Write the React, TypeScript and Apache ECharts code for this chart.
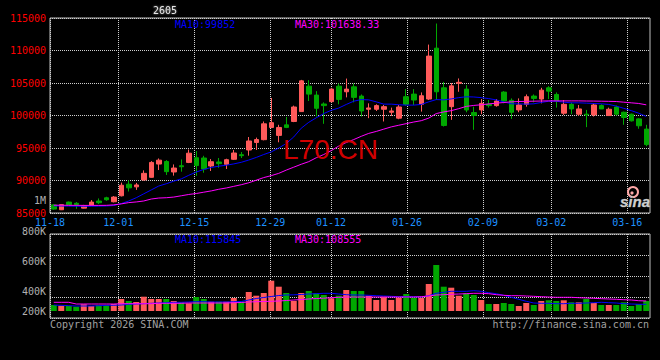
import React, { useEffect, useRef } from "react";
import * as echarts from "echarts";

const MONO = '"DejaVu Sans Mono", "Liberation Mono", monospace';

const dates: string[] = [
  "2025-11-18", "2025-11-19", "2025-11-20", "2025-11-21", "2025-11-24", "2025-11-25", "2025-11-26", "2025-11-27", "2025-11-28",
  "2025-12-01", "2025-12-02", "2025-12-03", "2025-12-04", "2025-12-05",
  "2025-12-08", "2025-12-09", "2025-12-10", "2025-12-11", "2025-12-12",
  "2025-12-15", "2025-12-16", "2025-12-17", "2025-12-18", "2025-12-19",
  "2025-12-22", "2025-12-23", "2025-12-24", "2025-12-25", "2025-12-26",
  "2025-12-29", "2025-12-30", "2025-12-31",
  "2026-01-05", "2026-01-06", "2026-01-07", "2026-01-08", "2026-01-09",
  "2026-01-12", "2026-01-13", "2026-01-14", "2026-01-15", "2026-01-16",
  "2026-01-19", "2026-01-20", "2026-01-21", "2026-01-22", "2026-01-23",
  "2026-01-26", "2026-01-27", "2026-01-28", "2026-01-29", "2026-01-30",
  "2026-02-02", "2026-02-03", "2026-02-04", "2026-02-05", "2026-02-06",
  "2026-02-09", "2026-02-10", "2026-02-11", "2026-02-12", "2026-02-13",
  "2026-02-24", "2026-02-25", "2026-02-26", "2026-02-27",
  "2026-03-02", "2026-03-03", "2026-03-04", "2026-03-05", "2026-03-06",
  "2026-03-09", "2026-03-10", "2026-03-11", "2026-03-12", "2026-03-13",
  "2026-03-16", "2026-03-17", "2026-03-18", "2026-03-19",
];

const xTickLabels = ["11-18", "12-01", "12-15", "12-29", "01-12", "01-26", "02-09", "03-02", "03-16"];
const volTickLabels = ["800K", "600K", "400K", "200K"];

const opens = [
  86250, 85500, 86680, 86500, 85750, 86230, 86840, 87340, 86730, 87650,
  89430, 89020, 90090, 90490, 92530, 92930, 91310, 92270, 92780, 93500,
  93460, 92230, 92850, 92490, 93260, 93970, 94690, 95850, 96280, 98160,
  96940, 98560, 99080, 100600, 104510, 103140, 101770, 102130, 104510, 103650,
  104410, 102990, 100960, 100960, 100960, 100500, 99590, 102890, 103290, 101720,
  102530, 110360, 104260, 101360, 104950, 104060, 100450, 100860, 101720, 101520,
  103600, 102330, 100860, 101720, 102990, 102530, 104260, 103240, 100350, 101720,
  100200, 100200, 100090, 101520, 99990, 101310, 100500, 100200, 99480, 97910,
];
const closes = [
  85600, 86280, 86280, 86300, 86100, 86680, 86580, 87040, 87450, 89270,
  88870, 89320, 91100, 92780, 93130, 91360, 91920, 92120, 94200, 92300,
  91770, 92890, 92590, 93200, 94230, 93820, 96080, 96300, 98720, 98900,
  98160, 98170, 101310, 105330, 103290, 101110, 101520, 104060, 102480, 104060,
  102790, 100700, 101160, 101520, 101360, 100700, 101310, 101720, 102380, 103040,
  109140, 103650, 98470, 104560, 105100, 100850, 100000, 101870, 101520, 102230,
  102230, 100500, 101620, 102890, 102630, 103900, 103750, 102230, 101720, 101010,
  101010, 100090, 101620, 101010, 100960, 100200, 99690, 99180, 98420, 95520,
];
const lows = [
  85500, 85450, 86250, 85650, 85700, 86120, 86380, 86890, 86630, 87550,
  88310, 88560, 89990, 90440, 91610, 90850, 90750, 91360, 92680, 90700,
  91200, 91460, 91950, 91770, 93150, 93460, 93820, 94700, 96180, 98060,
  95880, 98060, 98980, 100550, 102230, 99840, 98720, 102020, 101720, 102790,
  102020, 99840, 99590, 100700, 99080, 99940, 99430, 101520, 101620, 100600,
  102380, 102380, 98300, 99330, 103650, 100500, 97800, 100200, 101210, 101360,
  101870, 99480, 100500, 101360, 102020, 101870, 102530, 101210, 100090, 100200,
  99940, 98210, 99840, 101010, 99940, 99990, 98570, 99080, 97960, 95270,
];
const highs = [
  86350, 86300, 86750, 86680, 86250, 86990, 87240, 87500, 87600, 89680,
  90040, 89630, 91560, 92980, 93390, 93130, 92470, 93240, 94760, 94530,
  93800, 93300, 93460, 93350, 94700, 94380, 96690, 96600, 99080, 102700,
  98570, 99780, 101520, 105480, 105430, 103750, 102020, 104260, 104920, 105680,
  104920, 103240, 101870, 101720, 101620, 101210, 101620, 104060, 104060, 103550,
  110910, 114150, 105170, 105000, 105700, 104670, 101360, 102530, 102380, 102530,
  103750, 102630, 102630, 103240, 103240, 104260, 104510, 103550, 102380, 102020,
  101620, 100860, 101870, 101720, 101210, 101520, 100600, 100300, 99590, 98570,
];
const ma10 = [
  86100, 86080, 86060, 86040, 86040, 86040, 86060, 86080, 86150, 86450,
  86850, 87350, 87950, 88550, 89150, 89500, 89900, 90250, 90800, 91300,
  91700, 92000, 92200, 92350, 92550, 92800, 93150, 93550, 94000, 94400,
  95000, 95700, 96700, 98050, 98950, 99650, 100300, 100800, 101150, 101700,
  102200, 102450, 102400, 102100, 101750, 101750, 101650, 101600, 101600, 101700,
  102100, 102450, 102400, 102550, 102750, 102880, 102850, 102750, 102600, 102400,
  102100, 101800, 101800, 101750, 101800, 102000, 102200, 102200, 102050, 101950,
  101950, 101900, 101850, 101800, 101700, 101450, 101100, 100750, 100350, 99852,
];
const ma30 = [
  86200, 86200, 86180, 86180, 86170, 86170, 86170, 86180, 86250, 86400,
  86600, 86700, 86850, 87150, 87300, 87350, 87450, 87650, 87850, 88000,
  88200, 88400, 88650, 88850, 89100, 89350, 89650, 90050, 90450, 90750,
  91100, 91600, 92050, 92500, 92900, 93500, 94000, 94600, 95300, 95850,
  96300, 96800, 97250, 97550, 97900, 98250, 98500, 98750, 99000, 99200,
  99600, 100300, 100550, 100750, 101050, 101400, 101550, 101650, 101780, 101900,
  102000, 102100, 102150, 102180, 102200, 102230, 102250, 102250, 102250, 102250,
  102250, 102230, 102220, 102200, 102180, 102150, 102050, 101950, 101850, 101638,
];
const volumes = [
  60000, 53000, 50000, 43000, 67000, 50000, 60000, 60000, 70000, 120000,
  100000, 90000, 143000, 120000, 120000, 120000, 100000, 87000, 77000, 140000,
  120000, 93000, 93000, 93000, 130000, 93000, 190000, 153000, 180000, 303000,
  243000, 180000, 100000, 180000, 200000, 177000, 160000, 127000, 153000, 210000,
  200000, 200000, 153000, 110000, 143000, 110000, 133000, 170000, 133000, 133000,
  270000, 460000, 243000, 233000, 153000, 177000, 160000, 110000, 70000, 70000,
  80000, 70000, 50000, 80000, 60000, 100000, 107000, 100000, 107000, 87000,
  87000, 120000, 80000, 60000, 60000, 60000, 87000, 50000, 70000, 100000,
];
const volMa10 = [
  60000, 57000, 53000, 50000, 50000, 50000, 53000, 57000, 57000, 60000,
  67000, 70000, 73000, 77000, 80000, 83000, 87000, 87000, 90000, 93000,
  93000, 90000, 90000, 90000, 93000, 95000, 110000, 125000, 135000, 145000,
  155000, 160000, 162000, 165000, 170000, 173000, 177000, 177000, 170000, 163000,
  160000, 160000, 157000, 153000, 150000, 147000, 143000, 143000, 143000, 140000,
  153000, 177000, 187000, 197000, 197000, 197000, 203000, 197000, 183000, 173000,
  157000, 137000, 117000, 97000, 80000, 77000, 77000, 73000, 73000, 77000,
  77000, 80000, 83000, 87000, 83000, 80000, 73000, 70000, 67000, 67000,
];
const volMa30 = [
  87000, 87000, 87000, 70000, 70000, 70000, 70000, 70000, 70000, 73000,
  73000, 73000, 73000, 73000, 77000, 77000, 77000, 77000, 80000, 80000,
  80000, 80000, 80000, 80000, 83000, 85000, 90000, 93000, 95000, 97000,
  100000, 105000, 110000, 115000, 120000, 125000, 128000, 133000, 137000, 140000,
  140000, 140000, 140000, 140000, 140000, 140000, 140000, 140000, 140000, 143000,
  150000, 160000, 163000, 167000, 170000, 173000, 177000, 177000, 173000, 163000,
  157000, 153000, 153000, 150000, 147000, 143000, 140000, 137000, 137000, 137000,
  133000, 130000, 127000, 123000, 120000, 117000, 113000, 110000, 103000, 100000,
];

const legendPrice = ["MA10:99852", "MA30:101638.33"];
const legendVolume = ["MA10:115845", "MA30:108555"];

const UP = "#ff5a5a";
const DOWN = "#00a800";
const GRID_LINE = { color: "#cfcfcf", type: [1, 1] as number[], width: 1 };

const isTick = (_i: number, v: string) => xTickLabels.includes(String(v).slice(5));

function txt(text: string, x: number, y: number, fill: string, align = "left", extra: any = {}) {
  return {
    type: "text",
    x,
    y,
    z: 100,
    silent: true,
    style: {
      text,
      fill,
      font: `10px ${MONO}`,
      align,
      textAlign: align,
      verticalAlign: "middle",
      textVerticalAlign: "middle",
      ...extra,
    },
  };
}

function buildOption() {
  const candle = dates.map((_, i) => [opens[i], closes[i], lows[i], highs[i]]);
  const vol = volumes.map((v, i) => ({
    value: v,
    itemStyle: { color: closes[i] >= opens[i] ? UP : DOWN },
  }));
  const graphics: any[] = [
    txt("2605", 165, 10, "#e6e6e6", "center", { textShadowColor: "#888", textShadowBlur: 2 }),
    txt(legendPrice[0], 175, 24, "#0000ff"),
    txt(legendPrice[1], 295, 24, "#ff00ff"),
    txt(legendVolume[0], 175, 239, "#0000ff"),
    txt(legendVolume[1], 295, 239, "#ff00ff"),
    txt("1M", 46, 200, "#b0b0b0", "right"),
    txt(volTickLabels[0], 46, 231, "#b0b0b0", "right"),
    txt(volTickLabels[1], 46, 261, "#b0b0b0", "right"),
    txt(volTickLabels[2], 46, 291, "#b0b0b0", "right"),
    txt(volTickLabels[3], 46, 311, "#b0b0b0", "right"),
    txt("Copyright 2026 SINA.COM", 50, 324, "#a0a0a0"),
    txt("http://finance.sina.com.cn", 649, 324, "#a0a0a0", "right"),
    {
      type: "text",
      x: 283,
      y: 149,
      z: 100,
      silent: true,
      style: {
        text: "L70.CN",
        fill: "#d00000",
        font: '28px "Liberation Sans", Arial, sans-serif',
        align: "left",
        textAlign: "left",
        verticalAlign: "middle",
        textVerticalAlign: "middle",
      },
    },
    {
      type: "circle",
      z: 100,
      silent: true,
      shape: { cx: 633, cy: 192, r: 5 },
      style: { fill: "none", stroke: "#ffa8a8", lineWidth: 2 },
    },
    {
      type: "circle",
      z: 100,
      silent: true,
      shape: { cx: 632, cy: 193, r: 1.6 },
      style: { fill: "#ffa8a8" },
    },
    {
      type: "text",
      x: 635,
      y: 201,
      z: 100,
      silent: true,
      style: {
        text: "sina",
        fill: "#cfcfcf",
        stroke: "#777",
        lineWidth: 0.6,
        font: 'italic bold 15px "Liberation Sans", Arial, sans-serif',
        align: "center",
        textAlign: "center",
        verticalAlign: "middle",
        textVerticalAlign: "middle",
      },
    },
  ];

  return {
    animation: false,
    backgroundColor: "#000000",
    textStyle: { fontFamily: MONO },
    grid: [
      { left: 50, top: 18, width: 600, height: 195, show: true, borderColor: "#c0c0c0", borderWidth: 1, backgroundColor: "transparent" },
      { left: 50, top: 234, width: 600, height: 84, show: true, borderColor: "#c0c0c0", borderWidth: 1, backgroundColor: "transparent" },
    ],
    xAxis: [
      { type: "category", gridIndex: 0, data: dates, boundaryGap: true, show: false },
      {
        type: "category",
        gridIndex: 0,
        data: dates,
        boundaryGap: false,
        position: "bottom",
        axisLine: { show: false },
        axisTick: { show: false },
        axisLabel: {
          interval: isTick,
          formatter: (v: string) => v.slice(5),
          color: "#1e90ff",
          fontSize: 10,
          fontFamily: MONO,
          margin: 4,
          hideOverlap: false,
        },
        splitLine: { show: true, interval: isTick, lineStyle: GRID_LINE },
      },
      { type: "category", gridIndex: 1, data: dates, boundaryGap: true, show: false },
      {
        type: "category",
        gridIndex: 1,
        data: dates,
        boundaryGap: false,
        axisLine: { show: false },
        axisTick: { show: false },
        axisLabel: { show: false },
        splitLine: { show: true, interval: isTick, lineStyle: GRID_LINE },
      },
    ],
    yAxis: [
      {
        type: "value",
        gridIndex: 0,
        min: 85000,
        max: 115000,
        interval: 5000,
        axisLine: { show: false },
        axisTick: { show: false },
        axisLabel: {
          color: "#ff0000",
          fontSize: 10,
          fontFamily: MONO,
          margin: 4,
          formatter: (v: number) => String(v),
        },
        splitLine: { show: true, lineStyle: GRID_LINE },
      },
      { type: "value", gridIndex: 1, min: -70000, max: 770000, show: false, splitLine: { show: false } },
      {
        type: "value",
        gridIndex: 1,
        min: 0,
        max: 4,
        interval: 1,
        axisLine: { show: false },
        axisTick: { show: false },
        axisLabel: { show: false },
        splitLine: { show: true, lineStyle: GRID_LINE },
      },
    ],
    series: [
      {
        type: "candlestick",
        xAxisIndex: 0,
        yAxisIndex: 0,
        data: candle,
        barWidth: 5,
        itemStyle: { color: UP, color0: DOWN, borderColor: UP, borderColor0: DOWN, borderColorDoji: UP, borderWidth: 1 },
        z: 2,
      },
      {
        type: "line",
        xAxisIndex: 0,
        yAxisIndex: 0,
        data: ma10,
        showSymbol: false,
        symbol: "none",
        lineStyle: { color: "#0000ff", width: 1 },
        itemStyle: { color: "#0000ff" },
        z: 3,
      },
      {
        type: "line",
        xAxisIndex: 0,
        yAxisIndex: 0,
        data: ma30,
        showSymbol: false,
        symbol: "none",
        lineStyle: { color: "#ff00ff", width: 1 },
        itemStyle: { color: "#ff00ff" },
        z: 3,
      },
      {
        type: "bar",
        xAxisIndex: 2,
        yAxisIndex: 1,
        data: vol,
        barWidth: 6,
        z: 2,
      },
      {
        type: "line",
        xAxisIndex: 2,
        yAxisIndex: 1,
        data: volMa10,
        showSymbol: false,
        symbol: "none",
        lineStyle: { color: "#0000ff", width: 1 },
        itemStyle: { color: "#0000ff" },
        z: 3,
      },
      {
        type: "line",
        xAxisIndex: 2,
        yAxisIndex: 1,
        data: volMa30,
        showSymbol: false,
        symbol: "none",
        lineStyle: { color: "#ff00ff", width: 1 },
        itemStyle: { color: "#ff00ff" },
        z: 3,
      },
    ],
    graphic: graphics,
  };
}

export default function App() {
  const ref = useRef<HTMLDivElement>(null);
  useEffect(() => {
    document.body.style.margin = "0";
    document.body.style.background = "#000";
    const chart = echarts.init(ref.current as HTMLDivElement, null, { renderer: "svg", width: 660, height: 360 });
    chart.setOption(buildOption() as any);
    return () => chart.dispose();
  }, []);
  return (
    <div
      ref={ref}
      style={{ position: "absolute", left: 0, top: 0, width: 660, height: 360, background: "#000" }}
    />
  );
}
